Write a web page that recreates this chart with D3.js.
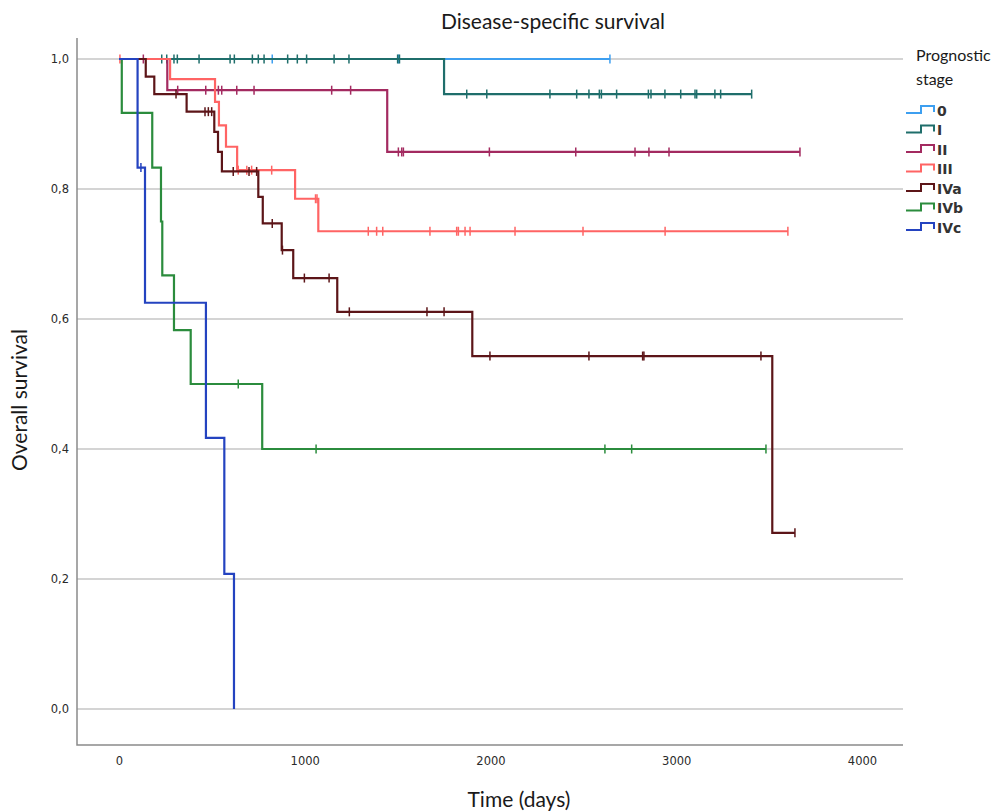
<!DOCTYPE html>
<html>
<head>
<meta charset="utf-8">
<script src="https://cdn.jsdelivr.net/npm/d3@7"></script>
<style>
  body { margin: 0; background: #fff; }
  svg { display: block; }
</style>
</head>
<body>
<svg id="chart" width="1003" height="812"></svg>
<script>
// survival data (time in days, survival after each event)
const stages = ["0", "I", "II", "III", "IVa", "IVb", "IVc"];

const times_0 = [];
const surv_0 = [];
const cens_0 = [825, 1505, 2643];

const times_I = [1750];
const surv_I = [0.946];
const cens_I = [230, 257, 296, 314, 431, 598, 621, 718, 750, 781, 908, 960, 1010, 1158, 1238, 1500, 1510,
                1872, 1980, 2320, 2464, 2530, 2586, 2597, 2679, 2850, 2864, 2939, 3024, 3101, 3110, 3208, 3239, 3406];

const times_II = [260, 1444];
const surv_II = [0.952, 0.857];
const cens_II = [131, 316, 467, 517, 535, 553, 634, 727, 1145, 1247,
                 1504, 1522, 1531, 1994, 2459, 2778, 2853, 2961, 3666];

const times_III = [275, 517, 538, 576, 636, 948, 1073];
const surv_III = [0.969, 0.934, 0.898, 0.865, 0.829, 0.785, 0.735];
const cens_III = [5, 642, 688, 714, 822, 1058, 1066,
                  1342, 1387, 1420, 1674, 1818, 1827, 1863, 1890, 2132, 2498, 2940, 3601];

const times_IVa = [144, 190, 364, 513, 533, 554, 750, 774, 876, 938, 1175, 1902, 3517];
const surv_IVa = [0.973, 0.946, 0.919, 0.888, 0.857, 0.827, 0.788, 0.747, 0.706, 0.663, 0.611, 0.543, 0.271];
const cens_IVa = [307, 463, 481, 499, 615, 700, 741, 825, 880, 998, 1131, 1240, 1658, 1750,
                  1997, 2530, 2819, 2826, 3456, 3639];

const times_IVb = [15, 179, 226, 233, 296, 386, 771];
const surv_IVb = [0.917, 0.833, 0.75, 0.667, 0.583, 0.5, 0.4];
const cens_IVb = [642, 1061, 2616, 2760, 3483];

const times_IVc = [100, 140, 468, 567, 619];
const surv_IVc = [0.833, 0.625, 0.417, 0.208, 0];
const cens_IVc = [118];

const xTicks = [0, 1000, 2000, 3000, 4000];
const yTicks = [0, 0.2, 0.4, 0.6, 0.8, 1.0];

const colors = ["#3d9ff0", "#1f6e6b", "#a32a60", "#ff6464", "#5c1518", "#2b8c3d", "#2443c0"];

const series = [
  {t: times_0, s: surv_0, c: cens_0},
  {t: times_I, s: surv_I, c: cens_I},
  {t: times_II, s: surv_II, c: cens_II},
  {t: times_III, s: surv_III, c: cens_III},
  {t: times_IVa, s: surv_IVa, c: cens_IVa},
  {t: times_IVb, s: surv_IVb, c: cens_IVb},
  {t: times_IVc, s: surv_IVc, c: cens_IVc}
];

const svg = d3.select("#chart");
const plotL = 77, plotR = 903, plotT = 38, plotB = 745;

const x = d3.scaleLinear().domain([0, 4000]).range([119, 862]);
const y = d3.scaleLinear().domain([0, 1]).range([709, 59]);

// gridlines
svg.append("g").selectAll("line").data(yTicks).enter().append("line")
  .attr("x1", plotL).attr("x2", plotR)
  .attr("y1", d => y(d)).attr("y2", d => y(d))
  .attr("stroke", "#c6c6c6").attr("stroke-width", 1.3);

// axes
const fmt = d => d3.format(".1f")(d).replace(".", ",");
const gy = svg.append("g").attr("transform", `translate(${plotL},0)`)
  .call(d3.axisLeft(y).tickValues(yTicks).tickSize(0).tickPadding(8).tickFormat(fmt));
gy.select(".domain").remove();
const gx = svg.append("g").attr("transform", `translate(0,${plotB})`)
  .call(d3.axisBottom(x).tickValues(xTicks).tickSize(0).tickPadding(12).tickFormat(d3.format("d")));
gx.select(".domain").remove();
svg.selectAll(".tick text")
  .attr("font-family", "DejaVu Sans, Verdana, sans-serif")
  .attr("font-size", 11.5).attr("fill", "#2a2a2a");

svg.append("path")
  .attr("d", `M${plotL},${plotT}V${plotB}H${plotR}`)
  .attr("fill", "none").attr("stroke", "#8a8a8a").attr("stroke-width", 1.5);

// survival at time t (value just after any event at t)
function survAt(d, t) {
  let v = 1;
  d.t.forEach((tt, i) => { if (tt <= t) v = d.s[i]; });
  return v;
}

const line = d3.line().x(p => x(p[0])).y(p => y(p[1])).curve(d3.curveStepAfter);

series.forEach((d, i) => {
  const pts = [[0, 1]];
  d.t.forEach((tt, k) => pts.push([tt, d.s[k]]));
  const tEnd = d3.max([d3.max(d.c) || 0, d3.max(d.t) || 0]);
  pts.push([tEnd, pts[pts.length - 1][1]]);

  const g = svg.append("g");
  g.append("path").attr("d", line(pts))
    .attr("fill", "none").attr("stroke", colors[i]).attr("stroke-width", 2.2)
    .attr("stroke-linejoin", "miter");

  g.selectAll("line").data(d.c).enter().append("line")
    .attr("x1", c => x(c)).attr("x2", c => x(c))
    .attr("y1", c => y(survAt(d, c)) - 4.5).attr("y2", c => y(survAt(d, c)) + 4.5)
    .attr("stroke", colors[i]).attr("stroke-width", 1.5);
});

// titles
const titleFont = "Lato, 'Open Sans', sans-serif";
svg.append("text").attr("x", 553).attr("y", 29).attr("text-anchor", "middle")
  .attr("font-family", titleFont).attr("font-size", 21)
  .attr("fill", "#1a1a1a").text("Disease-specific survival");
svg.append("text").attr("transform", "translate(27,400) rotate(-90)").attr("text-anchor", "middle")
  .attr("font-family", titleFont).attr("font-size", 21)
  .attr("fill", "#1a1a1a").text("Overall survival");
svg.append("text").attr("x", 519).attr("y", 807).attr("text-anchor", "middle")
  .attr("font-family", titleFont).attr("font-size", 21)
  .attr("fill", "#1a1a1a").text("Time (days)");

// legend
const lg = svg.append("g");
lg.append("text").attr("x", 916).attr("y", 61).attr("font-family", titleFont)
  .attr("font-size", 16).attr("fill", "#1a1a1a").text("Prognostic");
lg.append("text").attr("x", 916).attr("y", 85).attr("font-family", titleFont)
  .attr("font-size", 16).attr("fill", "#1a1a1a").text("stage");

const ly = d3.scaleLinear().domain([0, 6]).range([110, 227]);
const items = lg.selectAll("g.item").data(stages).enter().append("g")
  .attr("transform", (d, i) => `translate(0,${ly(i)})`);
items.append("path")
  .attr("d", "M906,3H921V-4H934V2")
  .attr("fill", "none").attr("stroke", (d, i) => colors[i]).attr("stroke-width", 2);
items.append("text").attr("x", 937).attr("y", 5.5)
  .attr("font-family", "DejaVu Sans, sans-serif").attr("font-weight", "bold")
  .attr("font-size", 14).attr("fill", "#333").text(d => d);
</script>
</body>
</html>
